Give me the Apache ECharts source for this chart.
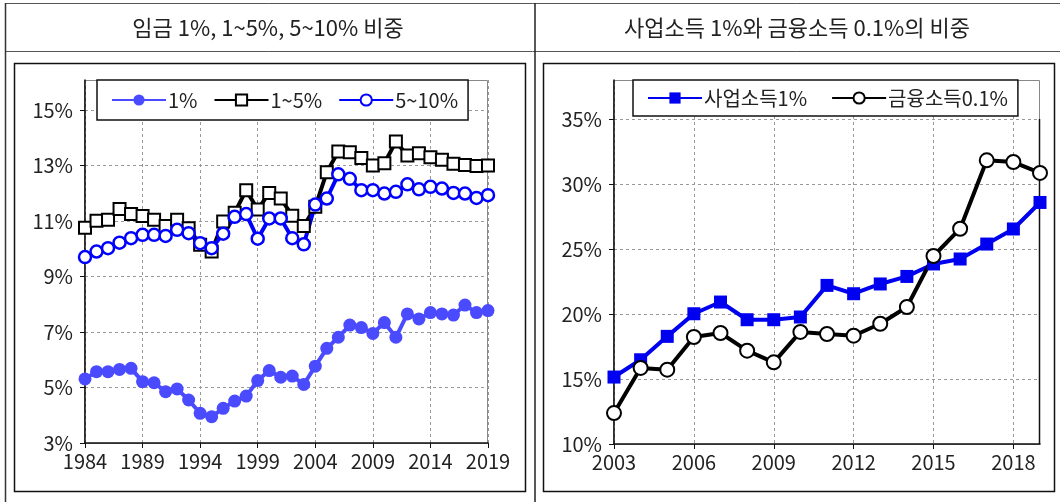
<!DOCTYPE html>
<html>
<head>
<meta charset="utf-8">
<script src="https://cdn.jsdelivr.net/npm/echarts@6/dist/echarts.min.js"></script>
<style>
  html, body { margin: 0; padding: 0; background: #fff; }
  #main { width: 1060px; height: 502px; }
</style>
</head>
<body>
<div id="main"></div>
<script>
// 왼쪽: 임금 1%, 1~5%, 5~10% 비중 (1984-2019)
const wageYears = [];
for (let y = 1984; y <= 2019; y++) wageYears.push(String(y));
const wage1 = [5.31, 5.57, 5.57, 5.65, 5.69, 5.21, 5.17, 4.85, 4.95, 4.55, 4.07, 3.95,
  4.25, 4.51, 4.69, 5.25, 5.61, 5.37, 5.41, 5.11, 5.77, 6.41, 6.81, 7.25, 7.16, 6.95,
  7.34, 6.81, 7.65, 7.47, 7.70, 7.65, 7.61, 7.97, 7.70, 7.77];
const wage1to5 = [10.76, 11.01, 11.04, 11.43, 11.25, 11.18, 11.04, 10.82, 11.04, 10.74, 10.14, 9.90,
  10.98, 11.30, 12.11, 11.41, 12.01, 11.81, 11.19, 10.82, 11.51, 12.76, 13.50, 13.48, 13.27, 13.00,
  13.08, 13.86, 13.36, 13.44, 13.30, 13.21, 13.06, 13.02, 12.98, 13.00];
const wage5to10 = [9.70, 9.90, 10.02, 10.22, 10.38, 10.50, 10.50, 10.46, 10.68, 10.56, 10.20, 10.02,
  10.54, 11.15, 11.25, 10.36, 11.09, 11.09, 10.38, 10.16, 11.59, 11.81, 12.68, 12.52, 12.11, 12.11,
  11.99, 12.05, 12.32, 12.14, 12.23, 12.17, 12.01, 11.99, 11.83, 11.93];
const wageTicks = [3, 5, 7, 9, 11, 13, 15];

// 오른쪽: 사업소득 1%와 금융소득 0.1%의 비중 (2003-2019)
const incYears = [];
for (let y = 2003; y <= 2019; y++) incYears.push(String(y));
const business1 = [15.15, 16.48, 18.28, 20.02, 20.92, 19.56, 19.56, 19.77, 22.20, 21.56,
  22.31, 22.89, 23.85, 24.23, 25.38, 26.54, 28.58];
const finance01 = [12.38, 15.85, 15.72, 18.23, 18.54, 17.18, 16.28, 18.62, 18.46, 18.33,
  19.25, 20.54, 24.46, 26.56, 31.82, 31.69, 30.85];
const incTicks = [10, 15, 20, 25, 30, 35];

const FONT = '"Noto Sans CJK KR", "Noto Sans", sans-serif';
const axisFont = { fontSize: 20, color: '#222', fontFamily: FONT };
const dashed = { show: true, lineStyle: { color: '#999', type: [3, 3], width: 1 } };

let myChart = echarts.init(document.getElementById('main'));

function pct(ticks) {
  return function (v) { return ticks.indexOf(v) >= 0 ? v + '%' : ''; };
}

let option = {
  animation: false,
  backgroundColor: '#fff',
  textStyle: { fontFamily: FONT },
  graphic: [
    // 표 테두리
    { type: 'line', shape: { x1: 5, y1: 3.5, x2: 1060, y2: 3.5 }, style: { stroke: '#555', lineWidth: 1 } },
    { type: 'line', shape: { x1: 5, y1: 51.5, x2: 1060, y2: 51.5 }, style: { stroke: '#555', lineWidth: 1 } },
    { type: 'line', shape: { x1: 5.5, y1: 3, x2: 5.5, y2: 502 }, style: { stroke: '#333', lineWidth: 1.5 } },
    { type: 'line', shape: { x1: 535, y1: 3, x2: 535, y2: 502 }, style: { stroke: '#222', lineWidth: 1.5 } },
    // 제목
    { type: 'text', x: 268, y: 28, style: { text: '임금 1%, 1~5%, 5~10% 비중', font: '22px ' + FONT, fill: '#222', textAlign: 'center', textVerticalAlign: 'middle' } },
    { type: 'text', x: 797, y: 28, style: { text: '사업소득 1%와 금융소득 0.1%의 비중', font: '22px ' + FONT, fill: '#222', textAlign: 'center', textVerticalAlign: 'middle' } },
    // 차트 프레임
    { type: 'rect', shape: { x: 14.5, y: 63.5, width: 511, height: 428 }, style: { fill: null, stroke: '#111', lineWidth: 1.5 } },
    { type: 'rect', shape: { x: 543.5, y: 63.5, width: 511, height: 428 }, style: { fill: null, stroke: '#111', lineWidth: 1.5 } },
    // 플롯 영역
    { type: 'rect', z: -1, shape: { x: 84.5, y: 80.5, width: 403, height: 363 }, style: { fill: null, stroke: '#888', lineWidth: 1 } },
    { type: 'rect', z: -1, shape: { x: 613.5, y: 80.5, width: 426, height: 364 }, style: { fill: null, stroke: '#888', lineWidth: 1 } },
    { type: 'line', shape: { x1: 1039.5, y1: 119, x2: 1039.5, y2: 444 }, style: { stroke: '#111', lineWidth: 1.5 } }
  ],
  legend: [
    {
      data: ['1%', '1~5%', '5~10%'],
      left: 97, top: 80,
      padding: [10, 10, 10, 14],
      itemWidth: 54, itemHeight: 14, itemGap: 16,
      borderColor: '#111', borderWidth: 1.5,
      backgroundColor: '#fff',
      textStyle: { fontSize: 20, color: '#222', fontFamily: FONT, padding: [0, 0, 0, -3] }
    },
    {
      data: ['사업소득1%', '금융소득0.1%'],
      left: 633, top: 80,
      padding: [8, 10, 8, 14],
      itemWidth: 54, itemHeight: 14, itemGap: 24,
      borderColor: '#111', borderWidth: 1.5,
      backgroundColor: '#fff',
      textStyle: { fontSize: 20, color: '#222', fontFamily: FONT, padding: [0, 0, 0, -3] }
    }
  ],
  grid: [
    { left: 85, top: 80, right: 1060 - 488, bottom: 502 - 443 },
    { left: 614, top: 80, right: 1060 - 1040, bottom: 502 - 444 }
  ],
  xAxis: [
    {
      gridIndex: 0, type: 'category', data: wageYears, boundaryGap: false,
      axisLine: { lineStyle: { color: '#111', width: 1.5 } },
      axisTick: { interval: 4, length: 5, lineStyle: { color: '#111' } },
      axisLabel: { interval: 4, margin: 8, ...axisFont },
      splitLine: { ...dashed, interval: 4 }
    },
    {
      gridIndex: 1, type: 'category', data: incYears, boundaryGap: false,
      axisLine: { lineStyle: { color: '#111', width: 1.5 } },
      axisTick: { interval: 2, length: 5, lineStyle: { color: '#111' } },
      axisLabel: { interval: 2, margin: 8, ...axisFont },
      splitLine: { ...dashed, interval: 2 }
    }
  ],
  yAxis: [
    {
      gridIndex: 0, type: 'value', min: 3, max: 16.08, interval: 2,
      axisLine: { show: true, lineStyle: { color: '#111', width: 1.5 } },
      axisTick: { show: true, length: 5, customValues: wageTicks, lineStyle: { color: '#111' } },
      axisLabel: { margin: 12, formatter: pct(wageTicks), showMaxLabel: false, ...axisFont },
      splitLine: dashed
    },
    {
      gridIndex: 1, type: 'value', min: 10, max: 38, interval: 5,
      axisLine: { show: true, lineStyle: { color: '#111', width: 1.5 } },
      axisTick: { show: true, length: 5, customValues: incTicks, lineStyle: { color: '#111' } },
      axisLabel: { margin: 12, formatter: pct(incTicks), showMaxLabel: false, ...axisFont },
      splitLine: dashed
    }
  ],
  series: [
    {
      name: '1%', type: 'line', xAxisIndex: 0, yAxisIndex: 0, data: wage1,
      symbol: 'circle', symbolSize: 13, showAllSymbol: true,
      lineStyle: { color: '#4a4aff', width: 4 },
      itemStyle: { color: '#4a4aff' }
    },
    {
      name: '1~5%', type: 'line', xAxisIndex: 0, yAxisIndex: 0, data: wage1to5,
      symbol: 'rect', symbolSize: 12, showAllSymbol: true,
      lineStyle: { color: '#000', width: 4 },
      itemStyle: { color: '#fff', borderColor: '#000', borderWidth: 2 }
    },
    {
      name: '5~10%', type: 'line', xAxisIndex: 0, yAxisIndex: 0, data: wage5to10,
      symbol: 'circle', symbolSize: 12, showAllSymbol: true,
      lineStyle: { color: '#0000ff', width: 4 },
      itemStyle: { color: '#fff', borderColor: '#0000ff', borderWidth: 2.5 }
    },
    {
      name: '사업소득1%', type: 'line', xAxisIndex: 1, yAxisIndex: 1, data: business1,
      symbol: 'rect', symbolSize: 13, showAllSymbol: true,
      lineStyle: { color: '#0000f0', width: 4 },
      itemStyle: { color: '#0000f0' }
    },
    {
      name: '금융소득0.1%', type: 'line', xAxisIndex: 1, yAxisIndex: 1, data: finance01,
      symbol: 'circle', symbolSize: 14, showAllSymbol: true,
      lineStyle: { color: '#000', width: 4 },
      itemStyle: { color: '#fff', borderColor: '#000', borderWidth: 2 }
    }
  ]
};
myChart.setOption(option);
</script>
</body>
</html>
